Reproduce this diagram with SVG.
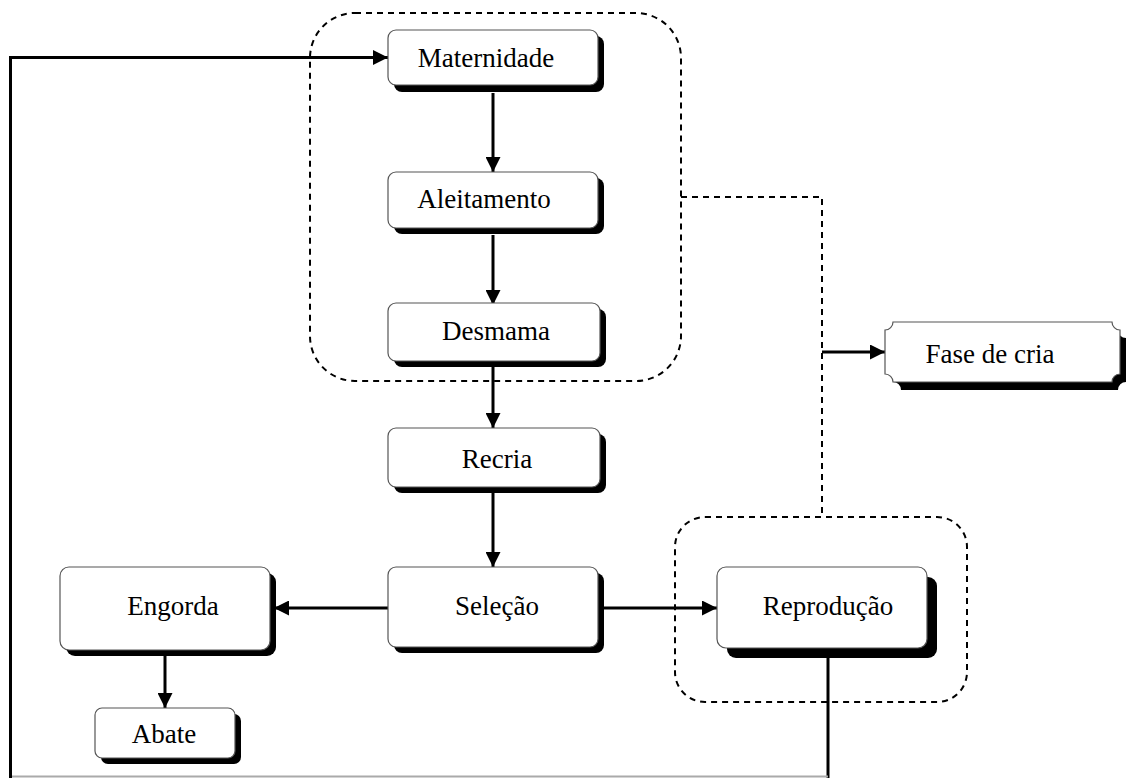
<svg xmlns="http://www.w3.org/2000/svg" width="1127" height="778" viewBox="0 0 1127 778">
<defs>
<style>
.box{fill:#fff;stroke:#555;stroke-width:1.2}
.sh{fill:#000}
.t{font-family:"Liberation Serif","Times New Roman",serif;font-size:27px;fill:#000;text-anchor:middle}
.c{fill:none;stroke:#000;stroke-width:3}
.d{fill:none;stroke:#000;stroke-width:2;stroke-dasharray:6 5}
</style>
<marker id="ah" viewBox="0 0 10 10" refX="10" refY="5" markerWidth="5.5" markerHeight="5" markerUnits="strokeWidth" orient="auto">
<path d="M0,0 L10,5 L0,10 z" fill="#000"/>
</marker>
</defs>
<rect width="1127" height="778" fill="#fff"/>
<g id="groups">
<rect class="d" x="310" y="13" width="371" height="368" rx="45"/>
<rect class="d" x="675" y="517" width="292" height="185" rx="30"/>
</g>
<g id="connectors">
<path class="d" d="M681,197 H822 V517"/>
<path class="c" d="M493,93 V172" marker-end="url(#ah)"/>
<path class="c" d="M493,235 V305" marker-end="url(#ah)"/>
<path class="c" d="M493,366 V428" marker-end="url(#ah)"/>
<path class="c" d="M493,492 V567" marker-end="url(#ah)"/>
<path class="c" d="M388,608 H274" marker-end="url(#ah)"/>
<path class="c" d="M604,608 H717" marker-end="url(#ah)"/>
<path class="c" d="M165,656 V708" marker-end="url(#ah)"/>
<path class="c" d="M822,352 H885" marker-end="url(#ah)"/>
<path class="c" d="M828,658 V778"/>
<path d="M12,776.5 H828" stroke="#aaa" stroke-width="2" fill="none"/>
<path class="c" stroke-width="4" d="M10.5,778 V57.5 H388" marker-end="url(#ah)"/>
</g>
<g id="maternidade">
<rect class="sh" x="394" y="36" width="210" height="56" rx="8"/>
<rect class="box" x="388" y="30" width="210" height="55" rx="8"/>
<text class="t" x="486" y="67">Maternidade</text>
</g>
<g id="aleitamento">
<rect class="sh" x="394" y="178" width="210" height="56" rx="8"/>
<rect class="box" x="388" y="172" width="210" height="56" rx="8"/>
<text class="t" x="484" y="208">Aleitamento</text>
</g>
<g id="desmama">
<rect class="sh" x="394" y="309" width="212" height="58" rx="8"/>
<rect class="box" x="388" y="303" width="212" height="58" rx="8"/>
<text class="t" x="496" y="340">Desmama</text>
</g>
<g id="recria">
<rect class="sh" x="394" y="434" width="212" height="59" rx="8"/>
<rect class="box" x="388" y="428" width="212" height="59" rx="8"/>
<text class="t" x="497" y="468">Recria</text>
</g>
<g id="selecao">
<rect class="sh" x="394" y="573" width="210" height="80" rx="8"/>
<rect class="box" x="388" y="567" width="210" height="80" rx="8"/>
<text class="t" x="497" y="615">Seleção</text>
</g>
<g id="engorda">
<rect class="sh" x="66" y="573" width="210" height="83" rx="9"/>
<rect class="box" x="60" y="567" width="210" height="83" rx="9"/>
<text class="t" x="173" y="615">Engorda</text>
</g>
<g id="abate">
<rect class="sh" x="101" y="714" width="140" height="50" rx="7"/>
<rect class="box" x="95" y="708" width="140" height="50" rx="7"/>
<text class="t" x="164" y="743">Abate</text>
</g>
<g id="reproducao">
<rect class="sh" x="727" y="577" width="210" height="81" rx="9"/>
<rect class="box" x="717" y="567" width="210" height="81" rx="9"/>
<text class="t" x="828" y="615">Reprodução</text>
</g>
<g id="fase-de-cria">
<path class="sh" d="M901,330 H1118 A8,8 0 0 0 1126,338 V382 A8,8 0 0 0 1118,390 H901 A8,8 0 0 0 893,382 V338 A8,8 0 0 0 901,330 Z"/>
<path class="box" d="M893,322 H1112 A8,8 0 0 0 1120,330 V374 A8,8 0 0 0 1112,382 H893 A8,8 0 0 0 885,374 V330 A8,8 0 0 0 893,322 Z"/>
<text class="t" x="990" y="363">Fase de cria</text>
</g>
</svg>
